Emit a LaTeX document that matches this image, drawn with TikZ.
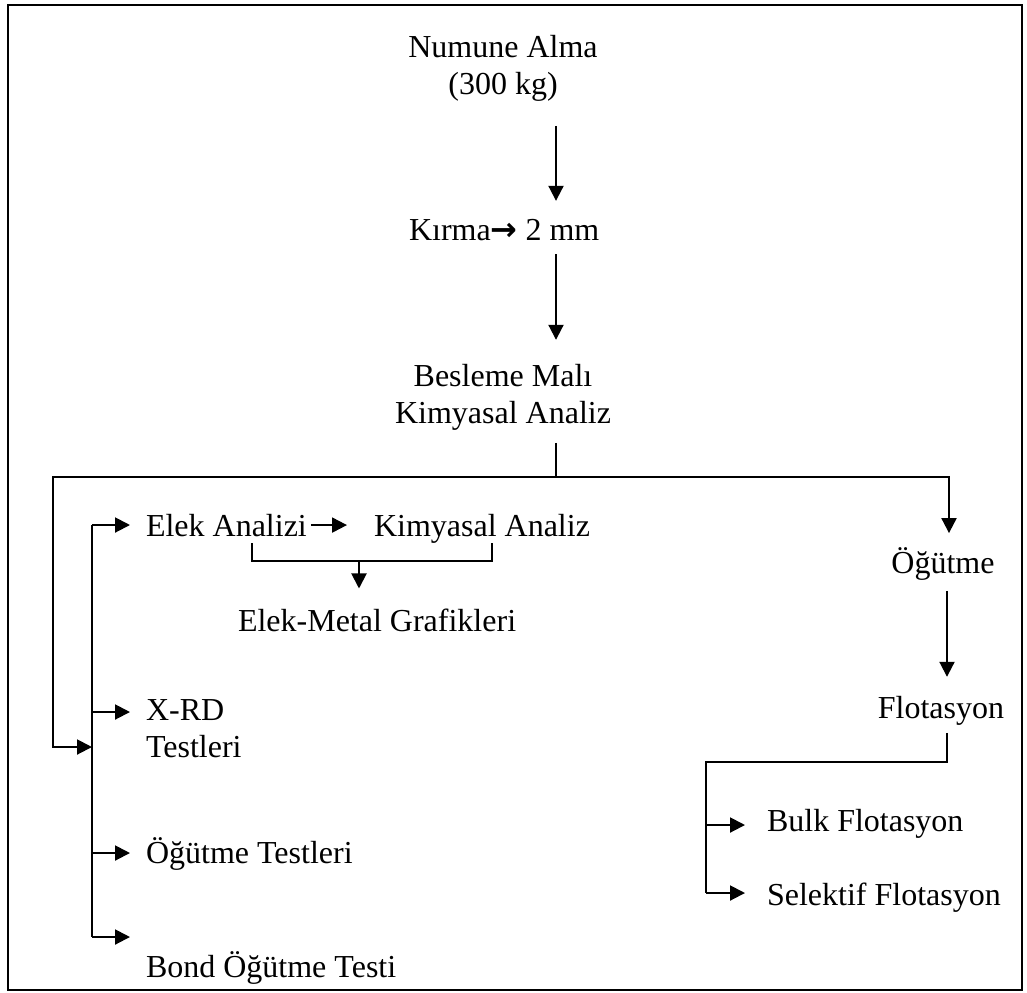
\documentclass[tikz,border=0pt]{standalone}
\usepackage{fontspec}
\setmainfont{Liberation Serif}
\newfontfamily\arrowfont{DejaVu Sans}
\usetikzlibrary{arrows.meta}

\begin{document}
\begin{tikzpicture}[x=0.5pt, y=-0.5pt, >={Triangle[length=7.5pt, width=7.5pt]}, line width=1pt,
        every node/.style={inner sep=0pt, font=\fontsize{16}{18.5}\selectfont}]
            \useasboundingbox (0,0) rectangle (1027,992);
            \draw (8,5) rectangle (1022,990);

            % Nodes
            \node[anchor=base, align=center] at (503,94) (numune) {Numune Alma\\(300 kg)};
            \node[anchor=base west] at (408,240) (kirma) {Kırma{\arrowfont\bfseries →} 2 mm};
            \node[anchor=base, align=center] at (503,423) (besleme) {Besleme Malı\\Kimyasal Analiz};
            \node[anchor=base west] at (145,536) (elek) {Elek Analizi};
            \node[anchor=base west] at (373,536) (kimyasal) {Kimyasal Analiz};
            \node[anchor=base west] at (237,631) (grafik) {Elek-Metal Grafikleri};
            \node[anchor=base west, align=left] at (145,757) (xrd) {X-RD\\Testleri};
            \node[anchor=base west] at (145,863) (ogtest) {Öğütme Testleri};
            \node[anchor=base west] at (145,977) (bond) {Bond Öğütme Testi};
            \node[anchor=base] at (943,573) (ogutme) {Öğütme};
            \node[anchor=base] at (941,718) (flot) {Flotasyon};
            \node[anchor=base west] at (766,831) (bulk) {Bulk Flotasyon};
            \node[anchor=base west] at (766,905) (selektif) {Selektif Flotasyon};

            % Junctions
            \coordinate (split) at (556,477);
            \coordinate (bus) at (92,747);
            \coordinate (b1) at (92,525);
            \coordinate (b2) at (92,712);
            \coordinate (b3) at (92,853);
            \coordinate (b4) at (92,937);
            \coordinate (gl) at (252,543);
            \coordinate (gr) at (492,543);
            \coordinate (gsplit) at (359,561);
            \coordinate (fsplit) at (706,762);
            \coordinate (f1) at (706,825);
            \coordinate (f2) at (706,893);

            % Edges
            \draw[->, shorten <=12pt, shorten >=8.5pt] (numune.south -| split) -- (kirma.north -| split);
            \draw[->, shorten <=6.5pt, shorten >=11.5pt] (kirma.south -| split) -- (besleme.north -| split);
            \draw[shorten <=6pt] (besleme.south -| split) -- (split);

            \draw[->] (split) -| ([xshift=-19.5pt]bus) -- (bus);
            \draw[->, shorten >=6.5pt] (split) -| ([xshift=3pt]ogutme.north);

            \draw (b1) -- (b4);
            \draw[->, shorten >=7.5pt] (b1) -- (b1 -| elek.west);
            \draw[->, shorten >=7.5pt] (b2) -- (b2 -| xrd.west);
            \draw[->, shorten >=7.5pt] (b3) -- (b3 -| ogtest.west);
            \draw[->, shorten >=7.5pt] (b4) -- (b4 -| bond.west);

            \draw[->, shorten <=1.5pt, shorten >=13pt] (elek.east) -- (elek.east -| kimyasal.west);
            \draw (gl) -- (gl |- gsplit) -- (gr |- gsplit) -- (gr);
            \draw[->, shorten >=9.5pt] (gsplit) -- (grafik.north -| gsplit);

            \draw[->, shorten <=5pt, shorten >=9pt] ([xshift=2pt]ogutme.south) -- ([xshift=3pt]flot.north);
            \draw[shorten <=3.5pt] ([xshift=3pt]flot.south) |- (fsplit) -- (f2);
            \draw[->, shorten >=10.5pt] (f1) -- (f1 -| bulk.west);
            \draw[->, shorten >=10.5pt] (f2) -- (f2 -| selektif.west);
\end{tikzpicture}
\end{document}
